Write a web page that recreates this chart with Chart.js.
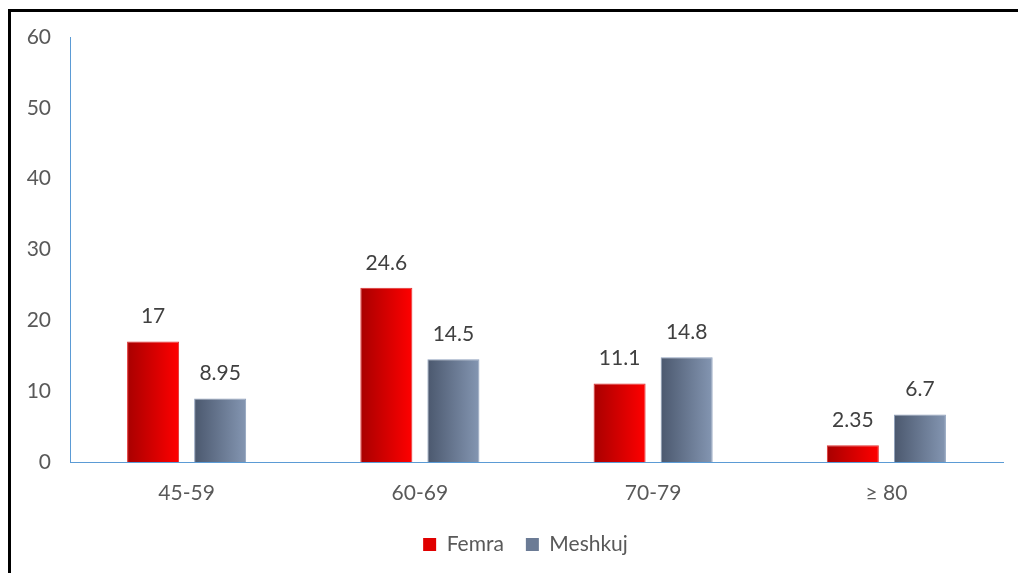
<!DOCTYPE html>
<html>
<head>
<meta charset="utf-8">
<script src="https://cdn.jsdelivr.net/npm/chart.js@4"></script>
<style>
  html, body { margin: 0; padding: 0; background: #fff; }
  #wrap { position: relative; width: 1018px; height: 573px; }
  #frame { position: absolute; left: 8px; top: 9px; right: 0; bottom: 0;
           border-top: 3px solid #000; border-left: 3px solid #000; pointer-events: none; }
</style>
</head>
<body>
<div id="wrap">
  <canvas id="grafica" width="1018" height="573"></canvas>
  <div id="frame"></div>
</div>
<script>
// Datos del gráfico
const categorias = ['45-59', '60-69', '70-79', '≥ 80'];
const femra = [17, 24.6, 11.1, 2.35];
const meshkuj = [8.95, 14.5, 14.8, 6.7];
const etiquetasSerie = ['Femra', 'Meshkuj'];

const CAT_PCT = 0.575;
const BAR_PCT = 0.776;

// degradado horizontal por barra, calculado desde la escala x
function degradado(ctx, oscuro, claro) {
  const chart = ctx.chart;
  const escala = chart.scales && chart.scales.x;
  if (!escala || ctx.dataIndex === undefined) return claro;
  const anchoCat = escala.width / categorias.length;
  const slot = anchoCat * CAT_PCT / 2;
  const centro = escala.getPixelForValue(ctx.dataIndex) + (ctx.datasetIndex === 0 ? -slot / 2 : slot / 2);
  const ancho = slot * BAR_PCT;
  const g = chart.ctx.createLinearGradient(centro - ancho / 2, 0, centro + ancho / 2, 0);
  g.addColorStop(0, oscuro);
  g.addColorStop(1, claro);
  return g;
}

// etiquetas de valor sobre las barras
const etiquetasValor = {
  id: 'etiquetasValor',
  afterDatasetsDraw(chart) {
    const ctx = chart.ctx;
    ctx.save();
    ctx.font = '21px Lato';
    ctx.fillStyle = '#404040';
    ctx.textAlign = 'center';
    ctx.textBaseline = 'middle';
    chart.data.datasets.forEach((ds, i) => {
      chart.getDatasetMeta(i).data.forEach((el, j) => {
        ctx.fillText(String(ds.data[j]), el.x, el.y - 25);
      });
    });
    ctx.restore();
  }
};

new Chart(document.getElementById('grafica'), {
  type: 'bar',
  data: {
    labels: categorias,
    datasets: [
      {
        label: etiquetasSerie[0],
        data: femra,
        backgroundColor: c => degradado(c, '#a80000', '#ff0000'),
        borderColor: '#e03030',
        borderWidth: 1,
        categoryPercentage: CAT_PCT,
        barPercentage: BAR_PCT
      },
      {
        label: etiquetasSerie[1],
        data: meshkuj,
        backgroundColor: c => degradado(c, '#4b586e', '#8496b2'),
        borderColor: '#8ea0bc',
        borderWidth: 1,
        categoryPercentage: CAT_PCT,
        barPercentage: BAR_PCT
      }
    ]
  },
  options: {
    responsive: false,
    animation: false,
    // padding derecho negativo + eje vacío a la derecha para centrar la leyenda como en el original
    layout: { padding: { left: 0, right: -33, top: 37, bottom: 8 } },
    plugins: {
      tooltip: { enabled: false },
      legend: {
        position: 'bottom',
        labels: {
          font: { family: 'Lato', size: 21 },
          color: '#595959',
          boxWidth: 13,
          boxHeight: 13,
          padding: 22,
          generateLabels: chart => chart.data.datasets.map((ds, i) => ({
            text: ds.label,
            fillStyle: i === 0 ? '#e00000' : '#6b7b95',
            strokeStyle: i === 0 ? '#e00000' : '#6b7b95',
            lineWidth: 0,
            datasetIndex: i,
            fontColor: '#595959'
          }))
        }
      }
    },
    scales: {
      x: {
        grid: { display: false, drawTicks: false },
        border: { display: true, color: '#5b9bd5', width: 1 },
        ticks: { font: { family: 'Lato', size: 21 }, color: '#595959', padding: 19 },
        afterFit: s => { s.height = 50; }
      },
      y: {
        min: 0,
        max: 60,
        grid: { display: false, drawTicks: false },
        border: { display: true, color: '#5b9bd5', width: 1 },
        ticks: { stepSize: 10, font: { family: 'Lato', size: 21 }, color: '#595959', padding: 19 },
        afterFit: s => { s.width = 70; }
      },
      relleno: {
        type: 'linear',
        position: 'right',
        grid: { display: false, drawTicks: false },
        border: { display: false },
        ticks: { display: false },
        afterFit: s => { s.width = 48; }
      }
    }
  },
  plugins: [etiquetasValor]
});
</script>
</body>
</html>
